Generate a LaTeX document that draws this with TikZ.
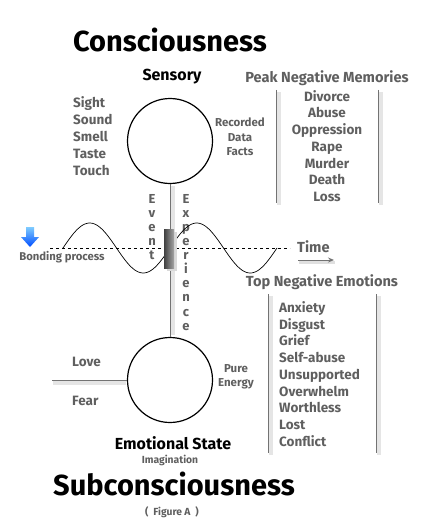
\documentclass[tikz,border=0pt]{standalone}
\usepackage{fontspec}
\setmainfont{Fira Sans}
\usetikzlibrary{positioning,arrows.meta,calc}
\definecolor{txtgray}{RGB}{95,95,95}
\tikzset{
    big/.style={font=\bfseries\fontsize{29}{29}\selectfont, inner sep=0pt},
    head/.style={font=\bfseries\fontsize{16}{16}\selectfont, inner sep=0pt},
    item/.style={text=txtgray, font=\bfseries\fontsize{13.5}{16.7}\selectfont, inner sep=0pt},
    listhead/.style={item, font=\bfseries\fontsize{14.6}{14.6}\selectfont},
    small/.style={text=txtgray, font=\bfseries\fontsize{11.5}{14.5}\selectfont, inner sep=0pt},
    tiny/.style={text=txtgray, font=\bfseries\fontsize{10.3}{10.3}\selectfont, inner sep=0pt},
    letters/.style={text=txtgray, font=\bfseries\fontsize{13}{14.1}\selectfont, inner sep=0pt, align=center, anchor=north},
    ring/.style={circle, draw, line width=1.2pt, minimum size=85pt, inner sep=0pt},
    rule/.style={draw=black!55, line width=0.9pt},
    shadowline/.style={draw=black!10, line width=3.5pt},
}
\begin{document}
\begin{tikzpicture}[x=1pt, y=-1pt]
    \useasboundingbox (0,0) rectangle (432,532);
    % titles
    \node[big] (cons) at (170, 40) {Consciousness};
    \node[head] (sens) at (172, 77) {Sensory};
    \node[listhead] (peak) at (327, 78) {Peak Negative Memories};
    % top circle and its texts
    \node[ring] (top) at (170, 141) {};
    \node[item, align=left, font=\bfseries\fontsize{13.5}{17}\selectfont, anchor=west] (senses) at (73, 136) {Sight\\Sound\\Smell\\Taste\\Touch};
    \node[small, align=center] (data) at (240, 137) {Recorded\\Data\\Facts};
    \node[item, align=center] (memories) at (327, 146) {Divorce\\Abuse\\Oppression\\Rape\\Murder\\Death\\Loss};
    % bottom circle and its texts
    \node[ring] (bot) at (170, 380) {};
    \node[item, anchor=west] (love) at (72, 362) {Love};
    \node[item, anchor=west] (fear) at (72, 401) {Fear};
    \node[small, align=center] (energy) at (236, 377) {Pure\\Energy};
    \node[listhead] (topneg) at (322, 282) {Top Negative Emotions};
    \node[item, align=left, anchor=west] (emotions) at (279, 374) {Anxiety\\Disgust\\Grief\\Self-abuse\\Unsupported\\Overwhelm\\Worthless\\Lost\\Conflict};
    \node[head] (emo) at (173, 443) {Emotional State};
    \node[tiny] (imag) at (170, 460) {Imagination};
    \node[big] (subc) at (174, 484) {Subconsciousness};
    \node[tiny] (fig) at (172, 512) {(\ \ Figure A\ \ )};
    % stem between the circles
    \draw[shadowline] ($(top.south)+(3,2)$) -- ($(bot.north)+(3,-2)$);
    \draw[black!55, line width=0.8pt] (top.south) -- (bot.north);
    \node[letters] (event) at (152, 194) {E\\v\\e\\n\\t};
    \node[letters] (exper) at (186, 194) {E\\x\\p\\e\\r\\i\\e\\n\\c\\e};
    % time axis and wave
    \coordinate (tstart) at (50, 248);
    \coordinate (tend) at (290, 248);
    \draw[dashed, line width=0.6pt] (tstart) -- (tend);
    \draw[line width=0.7pt, domain=0:214, samples=120, smooth] plot ({63+\x}, {248-25*sin(\x*3.3645)});
    \fill[black!15] (167,232) rectangle (177,271);
    \shade[left color=black!75, right color=black!35] (164,229) rectangle (174,268);
    \node[listhead, anchor=west] (time) at (297, 247) {Time};
    \coordinate (ta) at (298, 260);
    \coordinate (tb) at (334, 260);
    \draw[black!12, line width=3pt] ($(ta)+(1,2)$) -- ($(tb)+(1,2)$);
    \draw[black!55, line width=1pt, -{Stealth[length=6pt, width=5pt]}] (ta) -- (tb);
    % bonding arrow
    \shade[top color=cyan!60!blue!50, bottom color=blue!70!cyan] (26,227) -- (34,227) -- (34,237) -- (39,237) -- (30,247) -- (21,237) -- (26,237) -- cycle;
    \node[small, font=\bfseries\fontsize{11.3}{11.3}\selectfont] (bond) at (62, 257) {Bonding process};
    % side rules
    \coordinate (m1a) at (276, 90);  \coordinate (m1b) at (276, 203);
    \coordinate (m2a) at (378, 90);  \coordinate (m2b) at (378, 203);
    \coordinate (e1a) at (268, 294); \coordinate (e1b) at (268, 453);
    \coordinate (e2a) at (376, 294); \coordinate (e2b) at (376, 453);
    \coordinate (lv) at (52, 380);
    \foreach \a/\b in {m1a/m1b, m2a/m2b, e1a/e1b, e2a/e2b} {
        \draw[shadowline] ($(\a)+(3,2)$) -- ($(\b)+(3,2)$);
        \draw[rule] (\a) -- (\b);
    }
    \draw[shadowline] ($(lv)+(1,3)$) -- ($(bot.west)+(-1,3)$);
    \draw[rule] (lv) -- (bot.west);
\end{tikzpicture}
\end{document}
